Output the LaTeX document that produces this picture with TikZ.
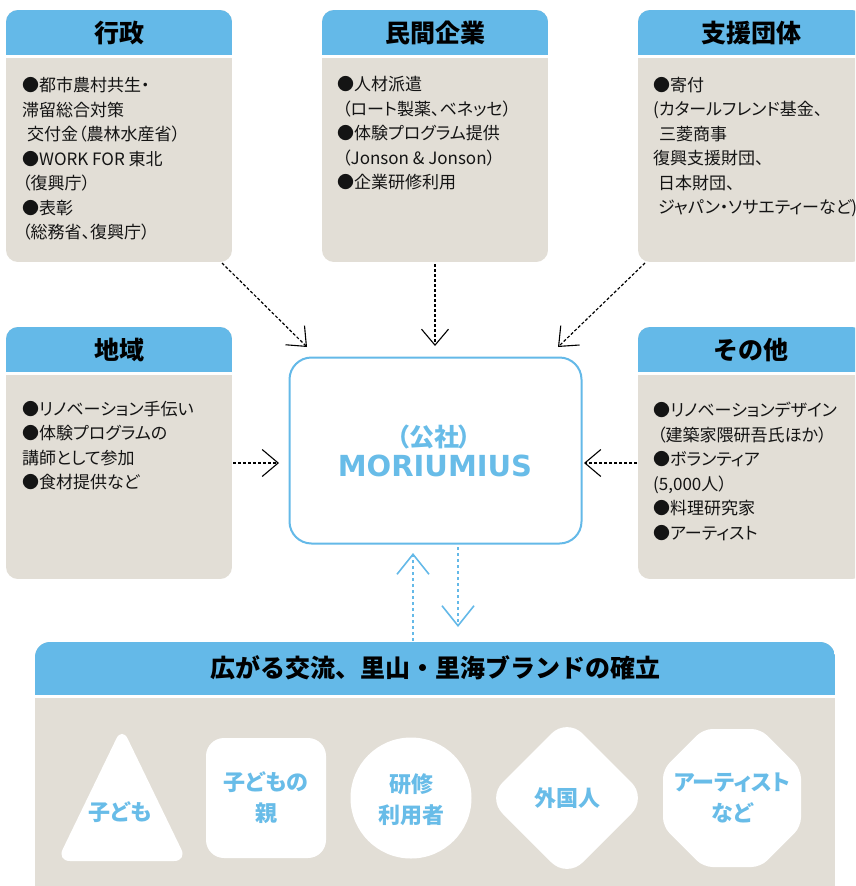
\documentclass[tikz,border=0pt]{standalone}
\usepackage{fontspec}
\usetikzlibrary{arrows.meta}
\newfontfamily\jp{Noto Sans CJK JP}[RawFeature=+palt]
\newfontfamily\jpn{Noto Sans CJK JP}
\newfontfamily\latinb{DejaVu Sans}
\definecolor{hblue}{RGB}{100,185,232}
\definecolor{tblue}{RGB}{104,188,232}
\definecolor{pgray}{RGB}{226,222,214}
\definecolor{txt}{RGB}{20,20,20}
\tikzset{
  head/.style={inner sep=0pt, font=\jpn\bfseries\fontsize{25}{28}\selectfont, text=black},
  body/.style={anchor=north west, inner sep=0pt, align=left, font=\jp\fontsize{17}{24.5}\selectfont, text=txt},
  arr/.style={dash pattern=on 3pt off 2pt, line width=1.2pt, black, -{Straight Barb[length=16pt,width=27pt,line width=1.1pt]}},
  barr/.style={dash pattern=on 3pt off 3pt, line width=1.6pt, hblue, -{Straight Barb[length=20pt,width=32pt,line width=1.6pt]}},
  shp/.style={fill=white},
  shtext/.style={inner sep=0pt, align=center, font=\jp\bfseries\fontsize{22}{31}\selectfont, text=tblue},
}
\newcommand\infobox[6]{%
  \begin{scope}
    \clip[rounded corners=12pt] (#2,#3) rectangle (#4,#5);
    \fill[pgray] (#2,#3) rectangle (#4,#5);
    \fill[hblue] (#2,#3) rectangle (#4,#3+45);
    \fill[white] (#2,#3+45) rectangle (#4,#3+48);
  \end{scope}
  \node[head] (#1-t) at ({(#2+#4)/2},#3+23) {#6};
}
\begin{document}
\begin{tikzpicture}[x=1pt,y=-1pt]
\clip (0,0) rectangle (855,886);
\fill[white] (0,0) rectangle (855,886);

% top boxes
\infobox{gy}{6}{10}{232}{262}{行政}
\infobox{mk}{322}{10}{548}{262}{民間企業}
\infobox{sd}{638}{10}{864}{262}{支援団体}
\infobox{cm}{6}{327}{232}{579}{地域}
\infobox{ot}{638}{327}{864}{579}{その他}

\node[body] (gy-b) at (22,77) {●都市農村共生・\\滞留総合対策\\\hspace{5pt}交付金（農林水産省）\\●WORK FOR 東北\\（復興庁）\\●表彰\\（総務省、復興庁）};
\node[body] (mk-b) at (337,76) {●人材派遣\\\hspace{5pt}（ロート製薬、ベネッセ）\\●体験プログラム提供\\\hspace{5pt}（Jonson \& Jonson）\\●企業研修利用};
\node[body] (sd-b) at (653,77) {●寄付\\(カタールフレンド基金、\\\hspace{6pt}三菱商事\\復興支援財団、\\\hspace{5pt}日本財団、\\\hspace{5pt}ジャパン・ソサエティーなど)};
\node[body] (cm-b) at (22,401) {●リノベーション手伝い\\●体験プログラムの\\講師として参加\\●食材提供など};
\node[body] (ot-b) at (653,402) {●リノベーションデザイン\\\hspace{4pt}（建築家隈研吾氏ほか）\\●ボランティア\\(5,000人）\\●料理研究家\\●アーティスト};

% center
\node[draw=hblue, line width=2pt, rounded corners=22pt, fill=white, minimum width=292pt, minimum height=186pt, inner sep=0pt] (mor) at (435.5,450.5) {};
\node[inner sep=0pt, font=\jp\bfseries\fontsize{25}{28}\selectfont, text=tblue] (mor-a) at (434,437) {（公社）};
\node[inner sep=0pt, font=\latinb\bfseries\fontsize{29}{32}\selectfont, text=tblue] (mor-b) at (435,466) {MORIUMIUS};

% black arrows
\coordinate (g1) at (222,263); \coordinate (g2) at (307,347);
\coordinate (m1) at (435,264); \coordinate (m2) at (435,346);
\coordinate (s1) at (645,263); \coordinate (s2) at (558,347);
\coordinate (c1) at (233,463); \coordinate (c2) at (279,463);
\coordinate (o1) at (637,463); \coordinate (o2) at (584,463);
\draw[arr] (g1) -- (g2);
\draw[arr] (m1) -- (m2);
\draw[arr] (s1) -- (s2);
\draw[arr] (c1) -- (c2);
\draw[arr] (o1) -- (o2);

% bottom panel
\begin{scope}
  \clip[rounded corners=15pt] (35,642) rectangle (835,910);
  \fill[pgray] (35,642) rectangle (835,910);
  \fill[hblue] (35,642) rectangle (835,695);
  \fill[white] (35,695) rectangle (835,698);
\end{scope}
\node[head] (bt) at (435,668) {広がる交流、里山・里海ブランドの確立};

% blue arrows
\coordinate (u1) at (413,641); \coordinate (u2) at (413,553);
\coordinate (d1) at (458,547); \coordinate (d2) at (458,627);
\draw[barr] (u1) -- (u2);
\draw[barr] (d1) -- (d2);

% shapes
\fill[shp, rounded corners=13pt] (122,727) -- (187,861) -- (57,861) -- cycle;
\node[shtext] (s-kids) at (120,812) {子ども};
\fill[shp, rounded corners=18pt] (206,738) rectangle (326,858);
\node[shtext] (s-par) at (266,798) {子どもの\\親};
\fill[shp] (411,798) circle (60.5);
\node[shtext] (s-tr) at (411,800) {研修\\利用者};
\fill[shp, rounded corners=22pt] (567,718) -- (647,798) -- (567,878) -- (487,798) -- cycle;
\node[shtext] (s-for) at (567,798) {外国人};
\fill[shp, rounded corners=9pt] (703.4,729) -- (760.6,729) -- (801,769.4) -- (801,826.6) -- (760.6,867) -- (703.4,867) -- (663,826.6) -- (663,769.4) -- cycle;
\node[shtext] (s-art) at (732,798) {アーティスト\\など};
\end{tikzpicture}
\end{document}
